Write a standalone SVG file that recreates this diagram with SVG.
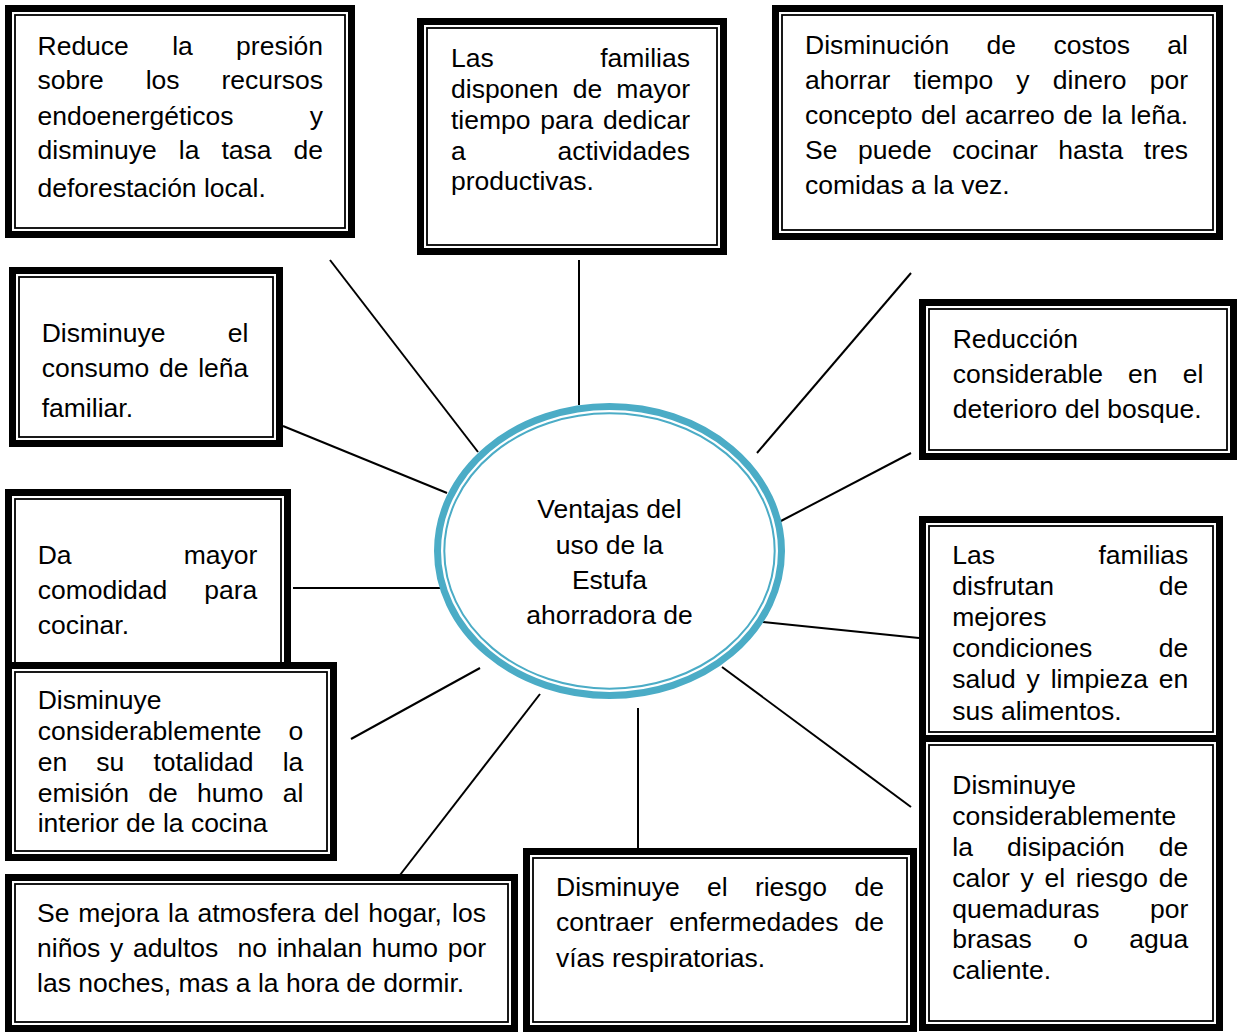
<svg xmlns="http://www.w3.org/2000/svg" width="1238" height="1032" viewBox="0 0 1238 1032">
<style>
.o{fill:#fff;stroke:#000;stroke-width:7}
.i{fill:none;stroke:#000;stroke-width:1.8}
text{font-family:"Liberation Sans",Arial,sans-serif;font-size:26.5px;fill:#000}
.r{text-anchor:end}
.c{text-anchor:middle}
#connectors line{stroke:#000;stroke-width:2}
</style>
<rect width="1238" height="1032" fill="#fff"/>
<g id="connectors">
<line x1="330" y1="260" x2="478" y2="452"/>
<line x1="579" y1="260" x2="579" y2="405"/>
<line x1="911" y1="273" x2="757" y2="453"/>
<line x1="283" y1="426" x2="447" y2="493"/>
<line x1="911" y1="453" x2="779" y2="522"/>
<line x1="293" y1="588" x2="440" y2="588"/>
<line x1="763" y1="622" x2="919" y2="638"/>
<line x1="351" y1="739" x2="480" y2="668"/>
<line x1="722" y1="667" x2="911" y2="807"/>
<line x1="400" y1="875" x2="540" y2="694"/>
<line x1="638" y1="708" x2="638" y2="850"/>
</g>
<g id="center">
<ellipse cx="609.5" cy="551" rx="172" ry="144.5" fill="#fff" stroke="#4BACC6" stroke-width="7"/>
<ellipse cx="609.5" cy="551" rx="165.2" ry="137.7" fill="none" stroke="#4BACC6" stroke-width="2"/>
<text class="c" x="609.5" y="518">Ventajas del</text>
<text class="c" x="609.5" y="554">uso de la</text>
<text class="c" x="609.5" y="589">Estufa</text>
<text class="c" x="609.5" y="624">ahorradora de</text>
</g>
<g id="n1">
<rect class="o" x="8.5" y="8.5" width="343" height="226"/>
<rect class="i" x="15" y="15" width="330" height="213"/>
<text y="55"><tspan x="37.5">Reduce</tspan><tspan x="172.2">la</tspan></text><text class="r" x="323" y="55">presión</text>
<text y="89"><tspan x="37.5">sobre</tspan><tspan x="145.7">los</tspan></text><text class="r" x="323" y="89">recursos</text>
<text x="37.5" y="125">endoenergéticos</text><text class="r" x="323" y="125">y</text>
<text y="159"><tspan x="37.5">disminuye</tspan><tspan x="178.8">la</tspan><tspan x="221.4">tasa</tspan></text><text class="r" x="323" y="159">de</text>
<text x="37.5" y="197">deforestación local.</text>
</g>
<g id="n2">
<rect class="o" x="420.5" y="21.5" width="303" height="230"/>
<rect class="i" x="427" y="28" width="290" height="217"/>
<text x="451" y="67">Las</text><text class="r" x="690" y="67">familias</text>
<text y="98"><tspan x="451">disponen</tspan><tspan x="572.7">de</tspan></text><text class="r" x="690" y="98">mayor</text>
<text y="129"><tspan x="451">tiempo</tspan><tspan x="540.3">para</tspan></text><text class="r" x="690" y="129">dedicar</text>
<text x="451" y="160">a</text><text class="r" x="690" y="160">actividades</text>
<text x="451" y="190">productivas.</text>
</g>
<g id="n3">
<rect class="o" x="775.5" y="8.5" width="444" height="228"/>
<rect class="i" x="782" y="15" width="431" height="215"/>
<text y="54"><tspan x="805">Disminución</tspan><tspan x="986.6">de</tspan><tspan x="1053.4">costos</tspan></text><text class="r" x="1188" y="54">al</text>
<text y="89"><tspan x="805">ahorrar</tspan><tspan x="913.6">tiempo</tspan><tspan x="1016.3">y</tspan><tspan x="1052.8">dinero</tspan></text><text class="r" x="1188" y="89">por</text>
<text y="124"><tspan x="805">concepto</tspan><tspan x="921">del</tspan><tspan x="965">acarreo</tspan><tspan x="1063.3">de</tspan><tspan x="1101.4">la</tspan></text><text class="r" x="1188" y="124">leña.</text>
<text y="159"><tspan x="805">Se</tspan><tspan x="858">puede</tspan><tspan x="952.3">cocinar</tspan><tspan x="1058.3">hasta</tspan></text><text class="r" x="1188" y="159">tres</text>
<text x="805" y="194">comidas a la vez.</text>
</g>
<g id="n4">
<rect class="o" x="922.5" y="302.5" width="311" height="154"/>
<rect class="i" x="929" y="309" width="298" height="141"/>
<text x="952.7" y="348">Reducción</text>
<text y="383"><tspan x="952.7">considerable</tspan><tspan x="1128">en</tspan></text><text class="r" x="1203.3" y="383">el</text>
<text x="952.7" y="418">deterioro del bosque.</text>
</g>
<g id="n5">
<rect class="o" x="12.5" y="270.5" width="267" height="173"/>
<rect class="i" x="19" y="277" width="254" height="160"/>
<text x="41.7" y="342">Disminuye</text><text class="r" x="248.3" y="342">el</text>
<text y="377"><tspan x="41.7">consumo</tspan><tspan x="159">de</tspan></text><text class="r" x="248.3" y="377">leña</text>
<text x="41.7" y="417">familiar.</text>
</g>
<g id="n6">
<rect class="o" x="8.5" y="492.5" width="279" height="177"/>
<rect class="i" x="15" y="499" width="266" height="164"/>
<text x="37.7" y="564">Da</text><text class="r" x="257.3" y="564">mayor</text>
<text x="37.7" y="599">comodidad</text><text class="r" x="257.3" y="599">para</text>
<text x="37.7" y="634">cocinar.</text>
</g>
<g id="n7">
<rect class="o" x="8.5" y="665.5" width="325" height="192"/>
<rect class="i" x="15" y="672" width="312" height="179"/>
<text x="37.7" y="709">Disminuye</text>
<text x="37.7" y="740">considerablemente</text><text class="r" x="303.3" y="740">o</text>
<text y="771"><tspan x="37.7">en</tspan><tspan x="96.3">su</tspan><tspan x="153.4">totalidad</tspan></text><text class="r" x="303.3" y="771">la</text>
<text y="802"><tspan x="37.7">emisión</tspan><tspan x="148.3">de</tspan><tspan x="197.1">humo</tspan></text><text class="r" x="303.3" y="802">al</text>
<text x="37.7" y="832">interior de la cocina</text>
</g>
<g id="n8">
<rect class="o" x="8.5" y="877.5" width="506" height="151"/>
<rect class="i" x="15" y="884" width="493" height="138"/>
<text y="922"><tspan x="37">Se</tspan><tspan x="78.2">mejora</tspan><tspan x="168">la</tspan><tspan x="197.4">atmosfera</tspan><tspan x="324">del</tspan><tspan x="368.2">hogar,</tspan></text><text class="r" x="486" y="922">los</text>
<text y="957"><tspan x="37">niños</tspan><tspan x="110">y</tspan><tspan x="132.9">adultos</tspan><tspan x="237.6">no</tspan><tspan x="276.7">inhalan</tspan><tspan x="371.8">humo</tspan></text><text class="r" x="486" y="957">por</text>
<text x="37" y="992">las noches, mas a la hora de dormir.</text>
</g>
<g id="n9">
<rect class="o" x="526.5" y="851.5" width="387" height="177"/>
<rect class="i" x="533" y="858" width="374" height="164"/>
<text y="896"><tspan x="556">Disminuye</tspan><tspan x="707">el</tspan><tspan x="754.9">riesgo</tspan></text><text class="r" x="884" y="896">de</text>
<text y="931"><tspan x="556">contraer</tspan><tspan x="669.2">enfermedades</tspan></text><text class="r" x="884" y="931">de</text>
<text x="556" y="967">vías respiratorias.</text>
</g>
<g id="n10">
<rect class="o" x="922.5" y="519.5" width="297" height="219"/>
<rect class="i" x="929" y="526" width="284" height="206"/>
<text x="952.3" y="564">Las</text><text class="r" x="1188.3" y="564">familias</text>
<text x="952.3" y="595">disfrutan</text><text class="r" x="1188.3" y="595">de</text>
<text x="952.3" y="626">mejores</text>
<text x="952.3" y="657">condiciones</text><text class="r" x="1188.3" y="657">de</text>
<text y="688"><tspan x="952.3">salud</tspan><tspan x="1026.5">y</tspan><tspan x="1050.7">limpieza</tspan></text><text class="r" x="1188.3" y="688">en</text>
<text x="952.3" y="720">sus alimentos.</text>
</g>
<g id="n11">
<rect class="o" x="922.5" y="738.5" width="297" height="289"/>
<rect class="i" x="929" y="745" width="284" height="276"/>
<text x="952.3" y="794">Disminuye</text>
<text x="952.3" y="825">considerablemente</text>
<text y="856"><tspan x="952.3">la</tspan><tspan x="1007">disipación</tspan></text><text class="r" x="1188.3" y="856">de</text>
<text y="887"><tspan x="952.3">calor</tspan><tspan x="1020.5">y</tspan><tspan x="1044.5">el</tspan><tspan x="1075.8">riesgo</tspan></text><text class="r" x="1188.3" y="887">de</text>
<text x="952.3" y="918">quemaduras</text><text class="r" x="1188.3" y="918">por</text>
<text y="948"><tspan x="952.3">brasas</tspan><tspan x="1073.3">o</tspan></text><text class="r" x="1188.3" y="948">agua</text>
<text x="952.3" y="979">caliente.</text>
</g>
</svg>
